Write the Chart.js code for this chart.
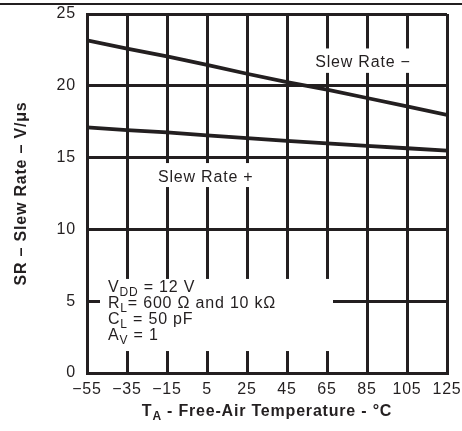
<!DOCTYPE html>
<html>
<head>
<meta charset="utf-8">
<script src="https://cdn.jsdelivr.net/npm/chart.js@4"></script>
<style>
html,body{margin:0;padding:0;background:#fff;}
#wrap{position:relative;width:462px;height:431px;}
#rule{position:absolute;left:0;top:3px;width:462px;height:2px;background:#231f20;}
canvas{position:absolute;left:0;top:0;}
</style>
</head>
<body>
<div id="wrap"><canvas id="c" width="462" height="431"></canvas><div id="rule"></div></div>
<script>
const temps = [-55, -35, -15, 5, 25, 45, 65, 85, 105, 125];
const slewRateMinus = [23.17, 22.59, 22.05, 21.45, 20.84, 20.26, 19.74, 19.15, 18.56, 17.97];
const slewRatePlus = [17.10, 16.92, 16.76, 16.55, 16.35, 16.17, 15.99, 15.82, 15.65, 15.48];
const xTickValues = [-55, -35, -15, 5, 25, 45, 65, 85, 105, 125];
const yTickValues = [0, 5, 10, 15, 20, 25];

const INK = '#231f20';
const FONT = '"Liberation Sans", Arial, Helvetica, sans-serif';
const SPACING = '0.8px';

// annotation boxes (white backgrounds) and texts, in data coordinates
const boxes = [
  {x0: 56.5, x1: 109, y0: 20.9, y1: 22.6},
  {x0: -21, x1: 29, y0: 12.95, y1: 14.62},
  {x0: -48.5, x1: 68, y0: 1.53, y1: 6.55}
];
const labels = [
  {x: 83, y: 21.62, align: 'center', parts: [{t: 'Slew Rate \u2212'}]},
  {x: -19.5, y: 13.62, align: 'left', parts: [{t: 'Slew Rate +'}]},
  {x: -44.5, y: 5.92, align: 'left', parts: [{t: 'V'}, {t: 'DD', sub: true}, {t: ' = 12 V'}]},
  {x: -44.5, y: 4.80, align: 'left', parts: [{t: 'R'}, {t: 'L', sub: true}, {t: '= 600 \u03A9 and 10 k\u03A9'}]},
  {x: -44.5, y: 3.69, align: 'left', parts: [{t: 'C'}, {t: 'L', sub: true}, {t: ' = 50 pF'}]},
  {x: -44.5, y: 2.58, align: 'left', parts: [{t: 'A'}, {t: 'V', sub: true}, {t: ' = 1'}]}
];

function drawParts(ctx, parts, x, y, size, weight, align) {
  const mainFont = weight + ' ' + size + 'px ' + FONT;
  const subFont = weight + ' ' + Math.round(size * 0.72) + 'px ' + FONT;
  let w = 0;
  parts.forEach(p => { ctx.font = p.sub ? subFont : mainFont; w += ctx.measureText(p.t).width; });
  let cx = align === 'center' ? x - w / 2 : x;
  ctx.textBaseline = 'middle';
  ctx.textAlign = 'left';
  parts.forEach(p => {
    ctx.font = p.sub ? subFont : mainFont;
    ctx.fillText(p.t, cx, p.sub ? y + size * 0.3 : y);
    cx += ctx.measureText(p.t).width;
  });
}

const overlay = {
  id: 'overlay',
  beforeDraw(chart) {
    chart.ctx.letterSpacing = SPACING;
  },
  beforeDatasetsDraw(chart) {
    const {ctx, scales: {x, y}} = chart;
    ctx.save();
    ctx.fillStyle = '#fff';
    boxes.forEach(b => {
      const l = x.getPixelForValue(b.x0), r = x.getPixelForValue(b.x1);
      const t = y.getPixelForValue(b.y1), btm = y.getPixelForValue(b.y0);
      ctx.fillRect(l, t, r - l, btm - t);
    });
    ctx.restore();
  },
  afterDraw(chart) {
    const {ctx, scales: {x, y}, chartArea} = chart;
    ctx.save();
    ctx.letterSpacing = SPACING;
    ctx.fillStyle = INK;
    labels.forEach(lb => {
      drawParts(ctx, lb.parts, x.getPixelForValue(lb.x), y.getPixelForValue(lb.y), 16, 'normal', lb.align);
    });
    // x axis title
    drawParts(ctx, [{t: 'T'}, {t: 'A', sub: true}, {t: ' - Free-Air Temperature - \u00B0C'}],
      (chartArea.left + chartArea.right) / 2, 412, 16, 'bold', 'center');
    // y axis title
    ctx.translate(22, (chartArea.top + chartArea.bottom) / 2);
    ctx.rotate(-Math.PI / 2);
    drawParts(ctx, [{t: 'SR \u2013 Slew Rate \u2013 V/\u03BCs'}], 0, 0, 16, 'bold', 'center');
    ctx.restore();
  }
};

new Chart(document.getElementById('c'), {
  type: 'line',
  data: {
    datasets: [
      {label: 'Slew Rate \u2212', data: temps.map((t, i) => ({x: t, y: slewRateMinus[i]})),
       borderColor: INK, borderWidth: 3.8, pointRadius: 0, tension: 0},
      {label: 'Slew Rate +', data: temps.map((t, i) => ({x: t, y: slewRatePlus[i]})),
       borderColor: INK, borderWidth: 3.8, pointRadius: 0, tension: 0}
    ]
  },
  options: {
    responsive: false,
    animation: false,
    devicePixelRatio: 1,
    layout: {padding: {top: 14, right: 15, left: 0, bottom: 0}},
    plugins: {legend: {display: false}, tooltip: {enabled: false}},
    scales: {
      x: {
        type: 'linear', min: -55, max: 125,
        afterBuildTicks: s => { s.ticks = xTickValues.map(v => ({value: v})); },
        afterFit: s => { s.height = 58; s.paddingLeft = 0; s.paddingRight = 0; },
        grid: {color: INK, lineWidth: 3, drawTicks: false},
        border: {color: INK, width: 3},
        ticks: {color: INK, font: {family: FONT, size: 16}, padding: 7, maxRotation: 0, autoSkip: false,
                callback: v => String(v).replace('-', '\u2212')}
      },
      y: {
        type: 'linear', min: 0, max: 25,
        afterBuildTicks: s => { s.ticks = yTickValues.map(v => ({value: v})); },
        afterFit: s => { s.width = 87; s.paddingTop = 0; s.paddingBottom = 0; },
        grid: {color: INK, lineWidth: 3, drawTicks: false},
        border: {color: INK, width: 3},
        ticks: {color: INK, font: {family: FONT, size: 16}, padding: 11}
      }
    }
  },
  plugins: [overlay]
});
</script>
</body>
</html>
